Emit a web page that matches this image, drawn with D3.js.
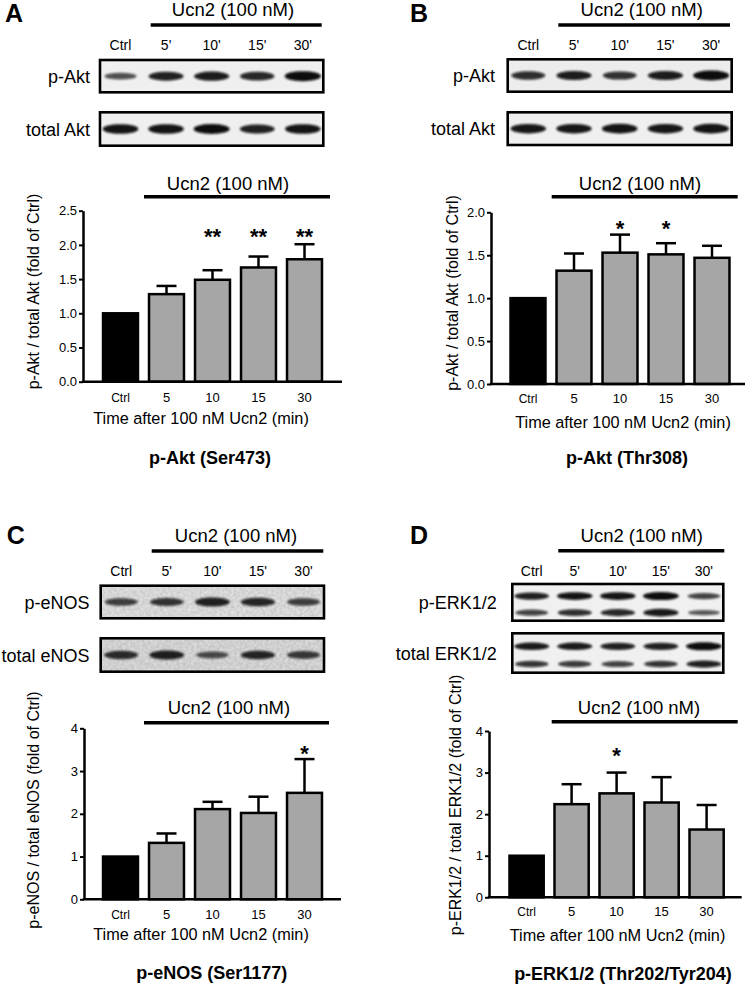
<!DOCTYPE html>
<html><head><meta charset="utf-8">
<script src="https://cdn.jsdelivr.net/npm/d3@7"></script>
<style>body{margin:0;background:#fff}svg{display:block;font-family:"Liberation Sans",Arial,sans-serif}</style>
</head><body><svg id="fig" width="750" height="984"></svg>
<script>
// ---------------- DATA ----------------
const categories = ["Ctrl","5","10","15","30"];
const laneLabels = ["Ctrl","5'","10'","15'","30'"];
const treatmentLabel = "Ucn2 (100 nM)";
const xAxisTitle = "Time after 100 nM Ucn2 (min)";

// A: p-Akt (Ser473)
const aktSer473Mean = [1.00, 1.28, 1.49, 1.67, 1.79];
const aktSer473Sem  = [0, 0.12, 0.14, 0.16, 0.22];
const aktSer473Sig  = ["", "", "**", "**", "**"];
const aktSer473Ticks = [0, 0.5, 1.0, 1.5, 2.0, 2.5];

// B: p-Akt (Thr308)
const aktThr308Mean = [1.00, 1.32, 1.53, 1.51, 1.47];
const aktThr308Sem  = [0, 0.20, 0.21, 0.13, 0.14];
const aktThr308Sig  = ["", "", "*", "*", ""];
const aktThr308Ticks = [0, 0.5, 1.0, 1.5, 2.0];

// C: p-eNOS (Ser1177)
const eNOSMean = [1.00, 1.32, 2.11, 2.02, 2.49];
const eNOSSem  = [0, 0.22, 0.17, 0.38, 0.79];
const eNOSSig  = ["", "", "", "", "*"];
const eNOSTicks = [0, 1, 2, 3, 4];

// D: p-ERK1/2 (Thr202/Tyr204)
const erkMean = [1.00, 2.24, 2.50, 2.28, 1.63];
const erkSem  = [0, 0.48, 0.50, 0.61, 0.59];
const erkSig  = ["", "", "*", "", ""];
const erkTicks = [0, 1, 2, 3, 4];

// Western blot band intensities (relative, per lane)
const blotAktS473Phospho = [0.50, 0.85, 0.88, 0.80, 1.00];
const blotAktS473Total   = [0.95, 0.95, 1.00, 0.85, 0.95];
const blotAktT308Phospho = [0.75, 0.88, 0.72, 0.88, 1.00];
const blotAktT308Total   = [0.92, 0.92, 0.95, 0.92, 0.95];
const blotENOSPhospho    = [0.60, 0.70, 0.85, 0.80, 0.60];
const blotENOSTotal      = [0.75, 0.85, 0.50, 0.80, 0.65];
const blotERKPhosphoUpper = [0.85, 0.95, 0.95, 1.00, 0.60];
const blotERKPhosphoLower = [0.60, 0.75, 0.80, 0.90, 0.45];
const blotERKTotalUpper   = [0.90, 0.90, 0.85, 0.85, 1.00];
const blotERKTotalLower   = [0.70, 0.65, 0.60, 0.70, 0.85];

// ---------------- LAYOUT ----------------
const svg = d3.select("#fig");
const FONT = '"Liberation Sans", Arial, sans-serif';
const defs = svg.append("defs");
defs.append("filter").attr("id","blur").attr("x","-30%").attr("y","-100%").attr("width","160%").attr("height","300%")
  .append("feGaussianBlur").attr("stdDeviation", 1.2);
const noise = defs.append("filter").attr("id","noise")
  .attr("x",0).attr("y",0).attr("width",1).attr("height",1);
noise.append("feTurbulence").attr("type","fractalNoise").attr("baseFrequency","0.35").attr("numOctaves",2).attr("seed",3).attr("result","t");
noise.append("feColorMatrix").attr("type","matrix")
  .attr("values","0 0 0 0 0  0 0 0 0 0  0 0 0 0 0  0 0 0 0.18 0").attr("in","t");

const panels = [
  { letter:"A", title:"p-Akt (Ser473)", yLabel:"p-Akt / total Akt (fold of Ctrl)",
    mean:aktSer473Mean, sem:aktSer473Sem, sig:aktSer473Sig, ticks:aktSer473Ticks, fmt:d3.format(".1f"), starLevel:2.25,
    rows:[{label:"p-Akt", levels:[blotAktS473Phospho], bg:"#efefef"},
          {label:"total Akt", levels:[blotAktS473Total], bg:"#efefef"}],
    L:{ letterX:5, letterY:22, hdrX:233, hdrY:15.5, hdrBar:[150.7,321.7,25], laneY:50,
        box:[100,323.3], rowY:[[60,92.3],[112.3,145.7]], rowLabelX:90,
        axisX:83, axisEnd:342, y0:381.7, yTop:210.7, band:[97.5,327.5],
        cHdrX:228, cHdrY:189.5, cBar:[144,330,196.7], tickY:401.8, timeX:201, timeY:424, titleX:210, titleY:464, yLab:[33,291.5] } },
  { letter:"B", title:"p-Akt (Thr308)", yLabel:"p-Akt / total Akt (fold of Ctrl)",
    mean:aktThr308Mean, sem:aktThr308Sem, sig:aktThr308Sig, ticks:aktThr308Ticks, fmt:d3.format(".1f"), starLevel:1.91,
    rows:[{label:"p-Akt", levels:[blotAktT308Phospho], bg:"#ececec"},
          {label:"total Akt", levels:[blotAktT308Total], bg:"#efefef"}],
    L:{ letterX:410, letterY:22, hdrX:641.7, hdrY:15.5, hdrBar:[558.3,730,25], laneY:50,
        box:[507.7,731.7], rowY:[[59.3,91.7],[112.3,145]], rowLabelX:495,
        axisX:491, axisEnd:745, y0:384, yTop:212.3, band:[505,735],
        cHdrX:640, cHdrY:189.5, cBar:[551.7,737.7,196.7], tickY:402.8, timeX:623, timeY:427.5, titleX:627, titleY:464, yLab:[451.7,293] } },
  { letter:"C", title:"p-eNOS (Ser1177)", yLabel:"p-eNOS / total eNOS (fold of Ctrl)",
    mean:eNOSMean, sem:eNOSSem, sig:eNOSSig, ticks:eNOSTicks, fmt:d3.format("d"), starLevel:3.61,
    rows:[{label:"p-eNOS", levels:[blotENOSPhospho], bg:"#ebebeb", noisy:true},
          {label:"total eNOS", levels:[blotENOSTotal], bg:"#e4e4e4", noisy:true}],
    L:{ letterX:6.7, letterY:544, hdrX:236, hdrY:542, hdrBar:[151.7,323.3,551], laneY:576,
        box:[100.7,324], rowY:[[585.7,618.3],[638.3,671.7]], rowLabelX:89.5,
        axisX:84, axisEnd:341, y0:899.3, yTop:728.3, band:[97.5,327.5],
        cHdrX:229, cHdrY:713.5, cBar:[144,329,722.7], tickY:918.5, timeX:201, timeY:940, titleX:211.7, titleY:979, yLab:[33,810] } },
  { letter:"D", title:"p-ERK1/2 (Thr202/Tyr204)", yLabel:"p-ERK1/2 / total ERK1/2 (fold of Ctrl)",
    mean:erkMean, sem:erkSem, sig:erkSig, ticks:erkTicks, fmt:d3.format("d"), starLevel:3.62,
    rows:[{label:"p-ERK1/2", levels:[blotERKPhosphoUpper, blotERKPhosphoLower], bg:"#f0f0f0"},
          {label:"total ERK1/2", levels:[blotERKTotalUpper, blotERKTotalLower], bg:"#f0f0f0"}],
    L:{ letterX:410, letterY:544, hdrX:641.7, hdrY:542, hdrBar:[558.3,724.3,550.7], laneY:576,
        box:[512.3,723.3], rowY:[[584,620.7],[633.3,672.7]], rowLabelX:496.7,
        axisX:489, axisEnd:741.7, y0:897.3, yTop:731, band:[504.1,729.1],
        cHdrX:639, cHdrY:714, cBar:[551.7,737.7,721.7], tickY:916, timeX:617.5, timeY:941, titleX:623, titleY:980, yLab:[455,805] } }
];

function drawPanel(p){
  const L = p.L;
  const g = svg.append("g");
  // panel letter
  g.append("text").attr("x",L.letterX).attr("y",L.letterY).attr("font-size",25).attr("font-weight","bold").text(p.letter);

  // ---- blot ----
  g.append("text").attr("x",L.hdrX).attr("y",L.hdrY).attr("text-anchor","middle").attr("font-size",18.5).text(treatmentLabel);
  g.append("line").attr("x1",L.hdrBar[0]).attr("x2",L.hdrBar[1]).attr("y1",L.hdrBar[2]).attr("y2",L.hdrBar[2])
    .attr("stroke","#000").attr("stroke-width",3.5);
  const lane = d3.scalePoint().domain(laneLabels).range(L.box).padding(0.45);
  g.selectAll(null).data(laneLabels).join("text")
    .attr("x",d=>lane(d)).attr("y",L.laneY).attr("text-anchor","middle").attr("font-size",14).text(d=>d);

  p.rows.forEach((row,ri)=>{
    const [y0,y1] = L.rowY[ri];
    g.append("rect").attr("x",L.box[0]).attr("y",y0).attr("width",L.box[1]-L.box[0]).attr("height",y1-y0)
      .attr("fill",row.bg);
    if(row.noisy){
      g.append("rect").attr("x",L.box[0]).attr("y",y0).attr("width",L.box[1]-L.box[0]).attr("height",y1-y0)
        .attr("filter","url(#noise)").attr("fill","#fff");
    }
    const pos = row.levels.length===1 ? [0.5] : [0.33,0.78];
    row.levels.forEach((vals,li)=>{
      const cy = y0 + (y1-y0)*pos[li];
      g.selectAll(null).data(vals).join("ellipse")
        .attr("cx",(d,i)=>lane(laneLabels[i]))
        .attr("cy",cy)
        .attr("rx",d=>14+4*d)
        .attr("ry",d=> row.levels.length===1 ? 1.8+3.2*d : 1.6+2.4*d)
        .attr("fill","#0a0a0a").attr("opacity",d=>0.4+0.6*d)
        .attr("filter","url(#blur)");
    });
    g.append("rect").attr("x",L.box[0]).attr("y",y0).attr("width",L.box[1]-L.box[0]).attr("height",y1-y0)
      .attr("fill","none").attr("stroke","#000").attr("stroke-width",2.6);
    g.append("text").attr("x",L.rowLabelX).attr("y",(y0+y1)/2+6.5).attr("text-anchor","end")
      .attr("font-size",18).text(row.label);
  });

  // ---- bar chart ----
  const x = d3.scaleBand().domain(categories).range(L.band).paddingInner(0.24).paddingOuter(0.12);
  const yMax = d3.max(p.ticks);
  const y = d3.scaleLinear().domain([0,yMax]).range([L.y0,L.yTop]);

  g.append("text").attr("x",L.cHdrX).attr("y",L.cHdrY).attr("text-anchor","middle").attr("font-size",18.5).text(treatmentLabel);
  g.append("line").attr("x1",L.cBar[0]).attr("x2",L.cBar[1]).attr("y1",L.cBar[2]).attr("y2",L.cBar[2])
    .attr("stroke","#000").attr("stroke-width",3.5);

  // error bars
  const eb = g.selectAll(null).data(categories.map((c,i)=>({c,m:p.mean[i],s:p.sem[i]})).filter(d=>d.s>0)).join("g");
  eb.append("line").attr("x1",d=>x(d.c)+x.bandwidth()/2).attr("x2",d=>x(d.c)+x.bandwidth()/2)
    .attr("y1",d=>y(d.m)).attr("y2",d=>y(d.m+d.s)).attr("stroke","#000").attr("stroke-width",2.5);
  eb.append("line").attr("x1",d=>x(d.c)+x.bandwidth()/2-10).attr("x2",d=>x(d.c)+x.bandwidth()/2+10)
    .attr("y1",d=>y(d.m+d.s)).attr("y2",d=>y(d.m+d.s)).attr("stroke","#000").attr("stroke-width",2.5);

  // bars
  g.selectAll(null).data(categories).join("rect")
    .attr("x",d=>x(d)).attr("width",x.bandwidth())
    .attr("y",(d,i)=>y(p.mean[i])).attr("height",(d,i)=>y(0)-y(p.mean[i]))
    .attr("fill",(d,i)=>i===0?"#000":"#a6a6a6").attr("stroke","#000").attr("stroke-width",2.5);

  // significance stars
  g.selectAll(null).data(categories.map((c,i)=>({c,s:p.sig[i]})).filter(d=>d.s)).join("text")
    .attr("x",d=>x(d.c)+x.bandwidth()/2).attr("y",y(p.starLevel)+16)
    .attr("text-anchor","middle").attr("font-size",22).attr("font-weight","bold").text(d=>d.s);

  // y axis
  const ya = g.append("g").attr("transform",`translate(${L.axisX},0)`)
    .call(d3.axisLeft(y).tickValues(p.ticks).tickFormat(p.fmt).tickSize(4).tickSizeOuter(0).tickPadding(2));
  ya.select(".domain").attr("stroke-width",2.5);
  ya.selectAll(".tick line").attr("stroke-width",2);
  ya.selectAll("text").attr("font-size",13).attr("font-family",FONT).attr("fill","#000");

  // x axis
  g.append("line").attr("x1",L.axisX-1.2).attr("x2",L.axisEnd).attr("y1",y(0)).attr("y2",y(0))
    .attr("stroke","#000").attr("stroke-width",2.5);
  g.selectAll(null).data(categories).join("text")
    .attr("x",d=>x(d)+x.bandwidth()/2).attr("y",L.tickY).attr("text-anchor","middle")
    .attr("font-size",d=>d==="Ctrl"?12:13).text(d=>d);
  g.append("text").attr("x",L.timeX).attr("y",L.timeY).attr("text-anchor","middle")
    .attr("font-size",16.3).text(xAxisTitle);

  // y label
  g.append("text").attr("transform",`translate(${L.yLab[0]+5.8},${L.yLab[1]}) rotate(-90)`)
    .attr("text-anchor","middle").attr("font-size",16).text(p.yLabel);

  // title
  g.append("text").attr("x",L.titleX).attr("y",L.titleY).attr("text-anchor","middle")
    .attr("font-size",18).attr("font-weight","bold").text(p.title);
}
panels.forEach(drawPanel);
</script></body></html>
